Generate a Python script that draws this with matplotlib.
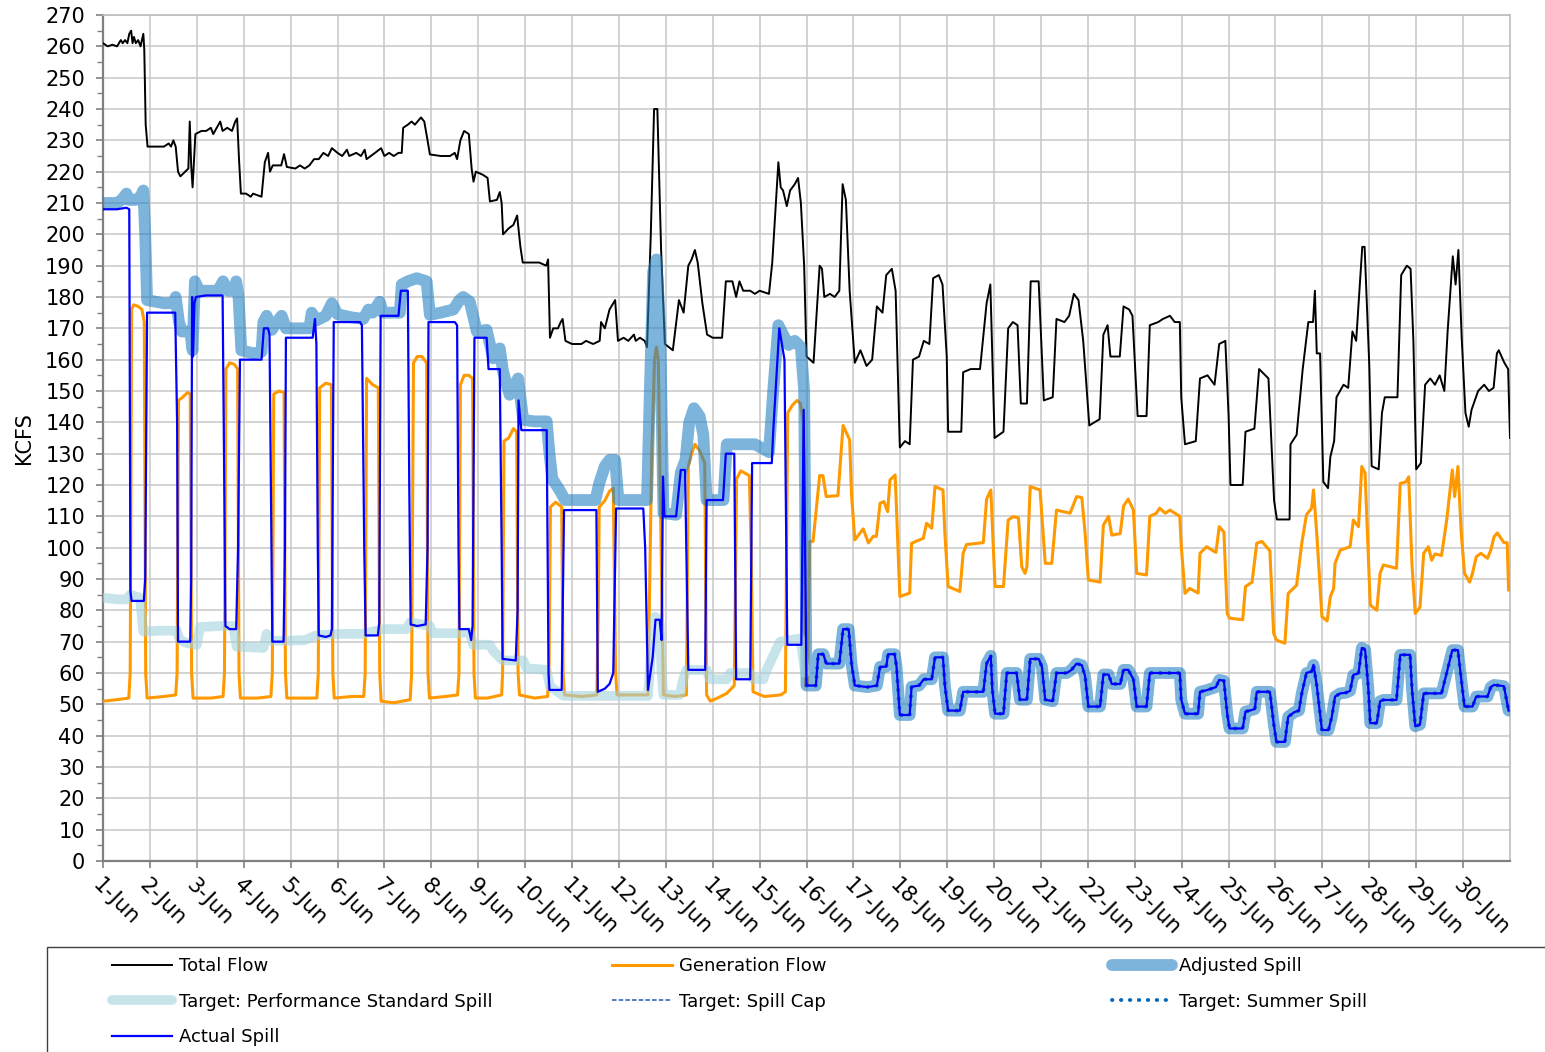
import matplotlib
matplotlib.use("Agg")
import matplotlib.pyplot as plt
import numpy as np
from matplotlib.patches import Rectangle
from matplotlib.ticker import MultipleLocator, FixedLocator

plt.rcParams['font.family'] = ['DejaVu Sans']

# x positions are days of June (1.0 = 1-Jun 00:00), values in KCFS
days = list(range(1, 31))
day_labels = [f"{d}-Jun" for d in days]

total_flow = [
    (1.00, 261), (1.10, 260), (1.20, 260.5), (1.30, 260), (1.38, 262), (1.42, 261), (1.47, 262),
    (1.52, 261), (1.56, 264), (1.60, 265), (1.63, 261), (1.66, 263), (1.70, 261), (1.75, 262),
    (1.80, 260), (1.83, 262), (1.86, 264), (1.88, 259), (1.91, 235), (1.95, 228), (2.10, 228),
    (2.30, 228), (2.40, 229), (2.45, 228), (2.50, 230), (2.55, 228), (2.60, 220), (2.65, 218.5),
    (2.75, 220), (2.82, 221), (2.85, 236), (2.88, 222), (2.91, 215), (2.97, 232), (3.10, 233),
    (3.20, 233), (3.30, 234), (3.35, 232), (3.50, 236), (3.55, 233), (3.65, 234), (3.75, 233),
    (3.82, 236), (3.86, 237), (3.90, 224), (3.94, 213), (4.05, 213), (4.15, 212), (4.20, 213),
    (4.38, 212), (4.45, 223), (4.52, 226), (4.56, 220), (4.62, 222), (4.80, 222), (4.86, 225.6),
    (4.92, 221.5), (5.10, 221), (5.20, 222), (5.30, 221), (5.40, 222), (5.50, 224), (5.60, 224),
    (5.70, 226), (5.80, 225), (5.88, 227.5), (6.00, 226), (6.10, 225), (6.20, 227), (6.25, 225),
    (6.40, 226), (6.50, 225), (6.58, 227), (6.62, 224), (6.80, 226), (6.93, 227.5), (7.00, 225),
    (7.10, 226), (7.20, 225), (7.30, 226), (7.37, 226), (7.40, 234), (7.50, 235), (7.58, 236),
    (7.65, 235), (7.78, 237.3), (7.85, 236), (7.92, 230), (7.97, 225.5), (8.20, 225), (8.40, 225),
    (8.50, 226), (8.55, 224), (8.62, 230), (8.70, 233), (8.80, 232), (8.86, 221), (8.90, 216.8),
    (8.95, 220), (9.10, 219), (9.20, 218), (9.25, 210.5), (9.40, 211), (9.46, 213.5), (9.50, 210),
    (9.53, 200), (9.65, 201.9), (9.75, 203), (9.83, 206), (9.90, 196), (9.95, 191), (10.30, 191),
    (10.45, 190), (10.49, 192), (10.53, 167), (10.60, 170), (10.70, 170), (10.76, 172), (10.80, 173),
    (10.86, 166), (11.00, 165), (11.20, 165), (11.30, 166), (11.45, 165), (11.59, 166), (11.62, 172),
    (11.70, 170), (11.80, 176), (11.92, 179), (11.98, 166), (12.10, 167), (12.20, 166), (12.32, 168),
    (12.36, 166), (12.45, 167), (12.55, 166), (12.60, 164), (12.68, 200), (12.75, 240), (12.82, 240),
    (12.90, 195), (12.98, 165), (13.15, 163), (13.28, 179), (13.33, 177), (13.38, 175), (13.48, 190),
    (13.55, 192), (13.62, 195), (13.68, 191), (13.78, 178), (13.88, 168), (14.00, 167), (14.20, 167),
    (14.28, 185), (14.42, 185), (14.50, 180), (14.57, 185), (14.65, 182), (14.80, 182), (14.90, 181),
    (15.00, 182), (15.20, 181), (15.27, 191), (15.40, 223), (15.45, 215), (15.50, 214), (15.58, 209),
    (15.65, 214), (15.75, 216), (15.82, 218), (15.88, 210), (15.95, 190), (16.00, 161), (16.15, 159),
    (16.28, 190), (16.33, 189), (16.38, 180), (16.50, 181), (16.60, 180), (16.70, 182), (16.77, 216),
    (16.84, 211), (16.92, 182), (17.03, 159), (17.15, 163), (17.28, 158), (17.40, 160), (17.50, 177),
    (17.62, 175), (17.70, 187), (17.82, 189), (17.90, 182), (17.99, 132), (18.10, 134), (18.20, 133),
    (18.27, 160), (18.40, 161), (18.50, 166), (18.62, 165), (18.70, 186), (18.82, 187), (18.90, 184),
    (18.99, 161), (19.02, 137), (19.30, 137), (19.34, 156), (19.50, 157), (19.70, 157), (19.84, 178),
    (19.92, 184), (20.01, 135), (20.20, 137), (20.30, 170), (20.40, 172), (20.50, 171), (20.57, 146),
    (20.70, 146), (20.78, 185), (20.95, 185), (21.06, 147), (21.25, 148), (21.33, 173), (21.50, 172),
    (21.60, 174), (21.70, 181), (21.80, 179), (21.90, 166), (22.03, 139), (22.25, 141), (22.33, 168),
    (22.42, 171), (22.48, 161), (22.68, 161), (22.76, 177), (22.88, 176), (22.95, 174), (23.06, 142),
    (23.25, 142), (23.32, 171), (23.50, 172), (23.60, 173), (23.75, 174), (23.85, 172), (23.96, 172),
    (23.99, 148), (24.07, 133), (24.30, 134), (24.39, 154), (24.55, 155), (24.70, 152), (24.80, 165),
    (24.93, 166), (25.00, 142), (25.04, 120), (25.30, 120), (25.36, 137), (25.55, 138), (25.65, 157),
    (25.85, 154), (25.97, 115), (26.03, 109), (26.30, 109), (26.32, 133), (26.45, 136), (26.58, 157),
    (26.70, 172), (26.80, 172), (26.84, 182), (26.88, 162), (26.95, 162), (27.02, 121), (27.12, 119),
    (27.17, 129), (27.25, 134), (27.30, 148), (27.45, 152), (27.55, 151), (27.64, 169), (27.72, 166),
    (27.85, 196), (27.90, 196), (28.00, 158), (28.05, 126), (28.20, 125), (28.27, 143), (28.33, 148),
    (28.60, 148), (28.68, 187), (28.80, 190), (28.88, 189), (28.94, 166), (29.00, 125), (29.10, 127),
    (29.19, 152), (29.30, 154), (29.40, 152), (29.50, 155), (29.60, 150), (29.67, 169), (29.78, 193),
    (29.84, 184), (29.90, 195), (29.97, 167), (30.05, 143), (30.12, 138.6), (30.18, 144), (30.32, 150),
    (30.45, 152), (30.55, 150), (30.65, 151), (30.72, 162), (30.76, 163), (30.88, 159), (30.96, 157),
    (31.00, 135),
]

generation_flow = [
    (1.00, 51), (1.30, 51.5), (1.55, 52), (1.58, 60), (1.61, 176), (1.65, 177.5), (1.75, 177),
    (1.83, 176), (1.88, 172), (1.91, 60), (1.94, 52), (2.30, 52.5), (2.55, 53), (2.58, 60),
    (2.61, 147), (2.70, 148), (2.80, 149.5), (2.86, 149), (2.89, 60), (2.92, 52), (3.30, 52),
    (3.56, 52.5), (3.59, 60), (3.62, 157), (3.70, 159), (3.80, 158.5), (3.87, 157), (3.90, 60),
    (3.93, 52), (4.30, 52), (4.58, 52.5), (4.61, 60), (4.64, 149), (4.75, 150), (4.86, 149.5),
    (4.89, 60), (4.92, 52), (5.30, 52), (5.56, 52), (5.59, 60), (5.62, 151), (5.75, 152.5),
    (5.87, 152), (5.90, 60), (5.93, 52), (6.30, 52.5), (6.56, 52.5), (6.59, 60), (6.62, 154),
    (6.75, 152), (6.87, 151), (6.90, 60), (6.93, 51), (7.20, 50.5), (7.55, 51.5), (7.58, 60),
    (7.62, 159), (7.70, 161), (7.80, 161), (7.90, 159), (7.93, 60), (7.96, 52), (8.30, 52.5),
    (8.56, 53), (8.59, 60), (8.62, 152), (8.70, 155), (8.80, 155), (8.88, 154), (8.91, 60),
    (8.94, 52), (9.20, 52), (9.50, 53), (9.52, 60), (9.55, 134), (9.65, 135), (9.75, 138),
    (9.82, 137), (9.85, 60), (9.88, 53), (10.20, 52), (10.48, 52.5), (10.51, 60), (10.54, 113),
    (10.65, 114.5), (10.78, 113), (10.81, 60), (10.84, 53), (11.20, 52.5), (11.53, 53), (11.56, 80),
    (11.58, 113), (11.70, 115), (11.80, 118), (11.88, 119), (11.93, 60), (11.96, 53), (12.30, 53),
    (12.62, 53), (12.70, 130), (12.76, 160), (12.80, 164), (12.84, 160), (12.90, 100), (12.95, 53),
    (13.20, 52.5), (13.44, 53), (13.48, 126), (13.55, 130), (13.62, 133), (13.72, 131), (13.83, 127),
    (13.87, 53), (13.95, 51), (14.10, 52), (14.30, 53.5), (14.46, 56), (14.51, 122), (14.60, 124.5),
    (14.78, 123), (14.82, 100), (14.86, 54), (15.10, 52.5), (15.45, 53), (15.55, 54), (15.60, 143),
    (15.70, 145.5), (15.80, 147), (15.87, 146), (15.93, 140), (15.98, 56), (16.02, 56), (16.07, 102),
    (16.14, 102), (16.28, 123), (16.35, 123), (16.42, 116.3), (16.67, 116.6), (16.78, 139),
    (16.92, 134.4), (16.96, 117), (17.03, 102.5), (17.21, 106), (17.32, 101.5), (17.42, 103.6),
    (17.49, 103.6), (17.57, 114.2), (17.65, 114.7), (17.73, 111.5), (17.78, 121.6), (17.89, 123.2),
    (17.92, 112), (17.99, 84.4), (18.20, 85.5), (18.24, 101.4), (18.49, 103), (18.56, 107.8),
    (18.67, 106.2), (18.74, 119.5), (18.91, 118.4), (18.95, 104.7), (19.02, 87.6), (19.27, 86),
    (19.34, 98.2), (19.41, 101), (19.77, 101.6), (19.84, 115.5), (19.93, 118.4), (20.02, 87.6),
    (20.20, 87.6), (20.30, 108.8), (20.41, 109.9), (20.52, 109.5), (20.59, 93.9), (20.66, 91.8),
    (20.70, 94), (20.77, 119.5), (20.98, 118.4), (21.09, 95), (21.23, 95), (21.33, 112),
    (21.62, 111), (21.76, 116.3), (21.87, 116), (21.94, 104.7), (22.01, 89.7), (22.26, 89),
    (22.33, 107.2), (22.44, 110), (22.51, 104), (22.69, 104.5), (22.76, 113.3), (22.86, 115.5),
    (22.97, 112), (23.04, 91.8), (23.25, 91.3), (23.32, 110), (23.46, 111), (23.53, 112.6),
    (23.65, 111), (23.75, 112), (23.96, 110), (23.99, 100.6), (24.07, 85.4), (24.17, 87),
    (24.35, 85.5), (24.39, 98.2), (24.53, 100.3), (24.67, 99), (24.73, 98.5), (24.80, 106.7),
    (24.90, 105), (24.97, 79), (25.02, 77.5), (25.30, 77), (25.36, 87.6), (25.50, 89),
    (25.60, 101.4), (25.71, 102), (25.88, 99), (25.96, 72.7), (26.02, 70.5), (26.20, 69.5),
    (26.27, 85.4), (26.45, 88), (26.56, 101.4), (26.66, 110.5), (26.77, 112.6), (26.81, 118.4),
    (26.88, 104.4), (26.99, 78), (27.10, 76.6), (27.17, 84.4), (27.24, 87), (27.27, 95),
    (27.38, 99.2), (27.59, 100.3), (27.66, 108.8), (27.77, 106.7), (27.84, 125.9), (27.91, 123.8),
    (27.98, 97), (28.02, 81.7), (28.16, 80), (28.23, 91.8), (28.30, 94.5), (28.58, 93.4),
    (28.66, 120.5), (28.78, 121), (28.84, 122.6), (28.91, 94.5), (28.98, 79), (29.08, 81),
    (29.16, 98.2), (29.26, 100.3), (29.33, 96), (29.40, 98), (29.54, 97.5), (29.65, 108.8),
    (29.77, 124.8), (29.82, 116.3), (29.89, 125.9), (29.96, 104.7), (30.03, 91.8), (30.14, 89),
    (30.20, 91.8), (30.28, 97.1), (30.38, 98.2), (30.52, 96.6), (30.59, 99.2), (30.66, 103.5),
    (30.73, 104.7), (30.87, 101.6), (30.94, 101.6), (30.97, 86.5),
]

adjusted_spill_early = [
    (1.00, 210), (1.30, 210), (1.40, 211), (1.50, 213), (1.55, 211), (1.70, 211), (1.80, 212),
    (1.86, 214), (1.90, 200), (1.94, 179), (2.30, 178), (2.50, 178), (2.55, 180), (2.62, 172),
    (2.68, 169), (2.86, 169), (2.91, 163), (2.96, 185), (3.05, 182), (3.45, 182), (3.56, 185),
    (3.66, 182), (3.80, 182), (3.84, 185), (3.89, 180), (3.95, 163), (4.20, 162), (4.38, 162.5),
    (4.42, 172), (4.49, 174), (4.60, 169.5), (4.70, 172), (4.81, 174), (4.90, 170), (5.10, 170),
    (5.40, 170), (5.45, 175), (5.55, 172.5), (5.75, 174), (5.88, 178), (6.00, 174.5), (6.30, 173.5),
    (6.55, 173), (6.66, 176), (6.75, 175), (6.90, 178.5), (6.97, 175), (7.33, 175), (7.37, 184),
    (7.50, 185), (7.69, 186), (7.90, 185), (7.97, 174.3), (8.20, 175), (8.47, 176), (8.60, 179),
    (8.68, 180), (8.82, 178.5), (8.97, 169), (9.18, 169.5), (9.32, 160.4), (9.46, 163.6),
    (9.53, 156.2), (9.67, 148.8), (9.78, 152), (9.85, 154), (9.96, 140.8), (10.20, 140.3),
    (10.46, 140.3), (10.52, 130), (10.58, 122), (10.75, 118), (10.85, 115.2), (11.50, 115.2),
    (11.58, 120.5), (11.70, 126), (11.80, 128), (11.92, 128), (11.99, 115.2), (12.60, 115.2),
    (12.66, 150), (12.73, 188), (12.80, 192), (12.88, 170), (12.95, 111), (13.22, 110.5),
    (13.32, 124), (13.42, 128), (13.50, 140), (13.60, 144.5), (13.72, 142), (13.80, 136),
    (13.87, 115.2), (14.23, 115.2), (14.30, 133), (14.90, 133), (15.20, 130.5), (15.29, 150),
    (15.40, 171), (15.50, 168), (15.62, 164.7), (15.75, 166), (15.88, 164), (15.95, 150),
]

actual_spill_early = [
    (1.00, 208), (1.30, 208), (1.50, 208.5), (1.56, 208), (1.585, 86), (1.61, 83), (1.70, 83),
    (1.87, 83), (1.90, 90), (1.94, 175), (2.20, 175), (2.54, 175), (2.58, 140), (2.60, 70),
    (2.86, 70), (2.88, 90), (2.90, 180), (2.92, 161), (2.95, 178), (2.98, 180), (3.20, 180.5),
    (3.55, 180.5), (3.58, 130), (3.61, 75), (3.70, 74), (3.84, 74), (3.88, 100), (3.92, 160),
    (4.20, 160), (4.38, 160), (4.43, 170), (4.52, 170), (4.55, 168), (4.59, 100), (4.61, 70),
    (4.85, 70), (4.88, 100), (4.90, 167), (5.20, 167), (5.47, 167), (5.52, 173), (5.55, 165),
    (5.58, 100), (5.60, 72), (5.75, 71.5), (5.85, 72), (5.88, 74), (5.92, 172), (6.20, 172),
    (6.48, 172), (6.52, 171), (6.57, 100), (6.60, 72), (6.86, 72), (6.89, 76), (6.92, 174),
    (7.30, 174), (7.35, 182), (7.50, 182), (7.53, 120), (7.56, 75.5), (7.70, 75), (7.88, 75.5),
    (7.92, 100), (7.94, 172), (8.30, 172), (8.50, 172), (8.55, 171), (8.58, 100), (8.60, 74),
    (8.80, 74), (8.85, 70.5), (8.88, 75), (8.92, 167), (9.18, 167), (9.22, 157), (9.46, 157),
    (9.50, 100), (9.52, 64.5), (9.80, 64), (9.84, 80), (9.86, 147), (9.92, 137.5), (10.20, 137.5),
    (10.46, 137.5), (10.50, 60), (10.52, 54.6), (10.78, 54.6), (10.83, 112), (11.20, 112),
    (11.52, 112), (11.55, 54), (11.70, 55), (11.80, 56.5), (11.88, 60), (11.94, 112.5),
    (12.30, 112.5), (12.52, 112.5), (12.56, 100), (12.62, 54.6), (12.72, 65), (12.78, 77),
    (12.87, 77), (12.91, 70.5), (12.94, 122.7), (12.97, 110), (13.22, 110), (13.32, 124.8),
    (13.41, 124.8), (13.48, 61), (13.84, 61), (13.87, 115.2), (14.22, 115.2), (14.28, 130),
    (14.46, 130), (14.50, 58), (14.80, 58), (14.84, 127), (15.10, 127), (15.26, 127), (15.29, 137),
    (15.42, 170), (15.53, 160), (15.59, 69), (15.89, 69), (15.94, 144),
]

perf_standard_spill = [
    (1.00, 84), (1.30, 83.5), (1.50, 83.5), (1.58, 85), (1.79, 84), (1.86, 73.2), (2.20, 73.5),
    (2.57, 73.5), (2.64, 70.5), (2.80, 69.5), (3.00, 69), (3.07, 74.7), (3.50, 75), (3.78, 75),
    (3.85, 68.4), (4.42, 68), (4.49, 72.5), (4.56, 70.3), (4.92, 70.3), (5.30, 70.5), (5.55, 72),
    (6.05, 72.5), (6.55, 72.5), (6.98, 74), (7.47, 74), (7.55, 76.2), (7.97, 75), (8.04, 72.7),
    (8.54, 72.7), (8.82, 73), (8.89, 69), (9.25, 69), (9.32, 67), (9.53, 64), (9.96, 64),
    (10.03, 61.5), (10.46, 61), (10.53, 55.7), (10.82, 52.7), (12.62, 52.7), (12.70, 70),
    (12.77, 78), (12.87, 76), (12.91, 60), (12.95, 53), (13.30, 53), (13.37, 58), (13.44, 61),
    (13.87, 61), (13.94, 58), (14.30, 58), (14.37, 60), (14.80, 60), (14.87, 58), (15.08, 58),
    (15.15, 61), (15.37, 68), (15.44, 70), (15.87, 71), (15.97, 60),
]

# from 16-Jun the summer spill target, adjusted spill and actual spill coincide
summer_spill = [
    (16.00, 56), (16.04, 56), (16.20, 56), (16.25, 66), (16.36, 66), (16.42, 63), (16.70, 63),
    (16.78, 74), (16.90, 74), (16.96, 63), (17.03, 56), (17.30, 55.5), (17.50, 56), (17.57, 62),
    (17.70, 62), (17.74, 66), (17.88, 66), (17.92, 62), (17.99, 46.6), (18.20, 46.6), (18.24, 55.6),
    (18.40, 56), (18.50, 58), (18.67, 58), (18.74, 65), (18.91, 65), (18.95, 56), (19.02, 48),
    (19.27, 48), (19.34, 54), (19.77, 54), (19.84, 63), (19.93, 65.5), (19.96, 55), (20.02, 47),
    (20.20, 47), (20.27, 60), (20.48, 60), (20.55, 51.5), (20.70, 51.5), (20.77, 64.5),
    (20.95, 64.5), (21.02, 62), (21.09, 51.5), (21.25, 51), (21.33, 60), (21.55, 60), (21.65, 61),
    (21.76, 63), (21.87, 62.5), (21.94, 59), (22.01, 49.3), (22.26, 49.3), (22.33, 59.5),
    (22.44, 59.5), (22.51, 56.5), (22.69, 56.5), (22.76, 61), (22.86, 61), (22.97, 58),
    (23.04, 49.3), (23.25, 49.3), (23.32, 60), (23.96, 60), (23.99, 51.5), (24.07, 47),
    (24.35, 47), (24.39, 54), (24.53, 54.5), (24.73, 55.5), (24.80, 57.8), (24.90, 57.5),
    (24.97, 47), (25.02, 42.3), (25.30, 42.3), (25.36, 47.7), (25.45, 48), (25.56, 48.5),
    (25.60, 54), (25.88, 54), (25.96, 44), (26.02, 38), (26.20, 38), (26.27, 46), (26.40, 47.5),
    (26.50, 48), (26.56, 53.5), (26.66, 60), (26.77, 60.5), (26.81, 62.6), (26.88, 56),
    (26.99, 41.8), (27.13, 41.8), (27.20, 46), (27.27, 52.5), (27.38, 53.5), (27.50, 53.7),
    (27.59, 54.3), (27.66, 59.4), (27.77, 59.9), (27.84, 68), (27.91, 67.5), (27.98, 55),
    (28.02, 44), (28.16, 44), (28.23, 51), (28.30, 51.4), (28.58, 51.4), (28.66, 65.8),
    (28.87, 65.8), (28.91, 55), (28.98, 43), (29.08, 43.5), (29.16, 53.5), (29.54, 53.5),
    (29.65, 60), (29.77, 67.3), (29.89, 67.3), (29.96, 58), (30.03, 49.3), (30.20, 49.3),
    (30.28, 52.5), (30.52, 52.5), (30.59, 55.5), (30.66, 56.2), (30.87, 55.8), (30.97, 48),
]

spill_cap = []  # no spill cap in effect this month


def xy(points):
    if not points:
        return [], []
    a = np.array(points, dtype=float)
    return a[:, 0], a[:, 1]


W, H = 1545, 1052
fig = plt.figure(figsize=(W / 100, H / 100), dpi=100)
ax = fig.add_axes([103 / W, 1 - 861 / H, (1510 - 103) / W, (861 - 15) / H])

tx, tv = xy(total_flow)
gx, gv = xy(generation_flow)
ax_, av = xy(adjusted_spill_early + summer_spill)
px, pv = xy(perf_standard_spill)
sx, sv = xy(summer_spill)
cx, cv = xy(spill_cap)
rx, rv = xy(actual_spill_early + summer_spill)

h_total, = ax.plot(tx, tv, color='black', lw=1.4, zorder=3, label='Total Flow')
h_gen, = ax.plot(gx, gv, color='#FF9900', lw=2.2, zorder=3, label='Generation Flow')
h_adj, = ax.plot(ax_, av, color='#2682C6', alpha=0.6, lw=8.5, solid_capstyle='round',
                 solid_joinstyle='round', zorder=4, label='Adjusted Spill')
h_perf, = ax.plot(px, pv, color='#A3D2DF', alpha=0.6, lw=7.0, solid_capstyle='round',
                  solid_joinstyle='round', zorder=5, label='Target: Performance Standard Spill')
h_cap, = ax.plot(cx, cv, color='#4472C4', lw=1.3, ls=(0, (2.5, 1.2)), zorder=6,
                 label='Target: Spill Cap')
h_sum, = ax.plot(sx, sv, color='#0066C0', lw=2.8, ls=(0, (0.1, 2.2)), dash_capstyle='round',
                 zorder=6, label='Target: Summer Spill')
h_act, = ax.plot(rx, rv, color='#0000FF', lw=1.6, zorder=7, label='Actual Spill')

ax.set_xlim(1, 31)
ax.set_ylim(0, 270)
ax.yaxis.set_major_locator(MultipleLocator(10))
ax.yaxis.set_minor_locator(MultipleLocator(5))
ax.xaxis.set_major_locator(FixedLocator(days))
ax.set_xticklabels(day_labels, rotation=-45, ha='left', va='top', rotation_mode='anchor')
ax.grid(True, which='major', color='#C8C8C8', lw=1.1)
ax.set_axisbelow(True)

for side in ('left', 'bottom'):
    ax.spines[side].set_color('#808080')
    ax.spines[side].set_linewidth(1.6)
for side in ('top', 'right'):
    ax.spines[side].set_color('#BDBDBD')
    ax.spines[side].set_linewidth(1.2)
ax.tick_params(axis='both', which='major', length=5, width=1.2, color='#808080')
ax.tick_params(axis='y', which='major', labelsize=15, pad=8)
ax.tick_params(axis='x', which='major', labelsize=15.5, pad=5)
ax.tick_params(axis='y', which='minor', length=4, width=1.0, color='#808080')
ax.set_ylabel('KCFS', fontsize=15, labelpad=8)

# legend box running off the bottom-right of the image
fig.patches.append(Rectangle((47 / W, -0.05), 1.1, 0.05 + 1 - 947 / H, transform=fig.transFigure,
                             fill=False, edgecolor='#404040', lw=1.0))

leg_kw = dict(loc='upper left', frameon=False, fontsize=13, borderpad=0, borderaxespad=0,
              handlelength=3.3, handletextpad=0.4, labelspacing=0.98)
columns = [([h_total, h_perf, h_act], 112), ([h_gen, h_cap], 612), ([h_adj, h_sum], 1112)]
for handles, x0 in columns:
    fig.legend(handles=handles, labels=[h.get_label() for h in handles],
               bbox_to_anchor=(x0 / W, 1 - 957 / H), **leg_kw)

fig.savefig('out.png', dpi=100)
